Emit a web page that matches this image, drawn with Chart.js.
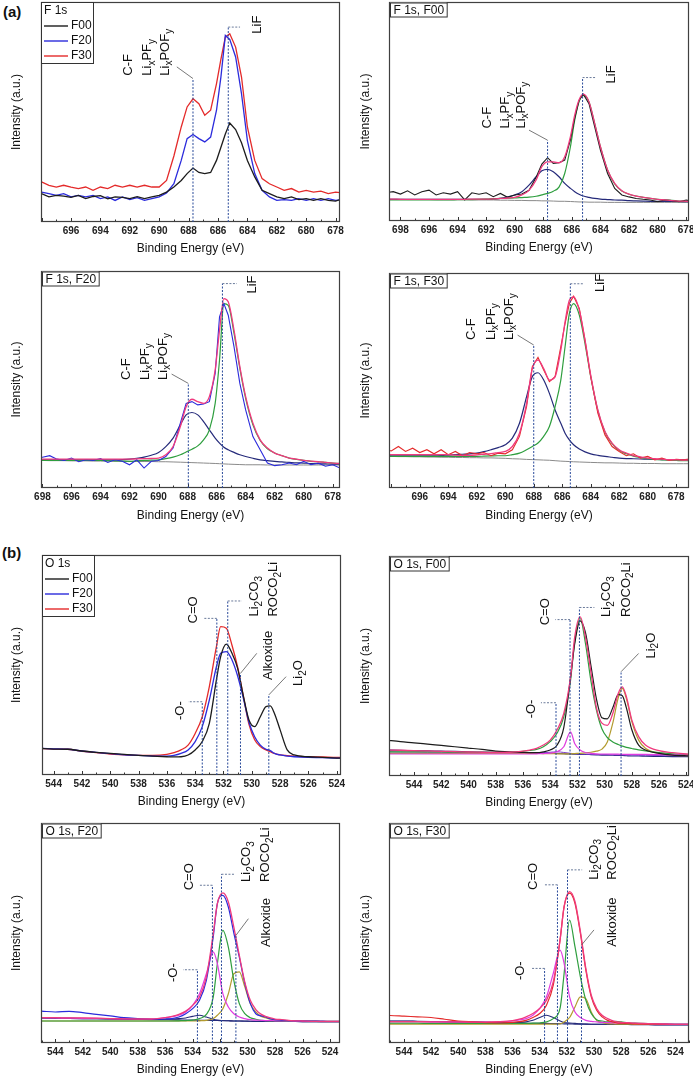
<!DOCTYPE html>
<html><head><meta charset="utf-8">
<script src="https://cdn.jsdelivr.net/npm/chart.js@4.4.1/dist/chart.umd.min.js"></script>
<style>
body{margin:0;background:#fff;width:693px;height:1078px;position:relative;overflow:hidden;font-family:"Liberation Sans",Arial,sans-serif}
canvas{position:absolute}
.tag{position:absolute;font-weight:bold;font-size:15px;line-height:15px;color:#111}
</style></head>
<body>
<div class="tag" style="left:3px;top:4px">(a)</div>
<div class="tag" style="left:2px;top:545px">(b)</div>
<script>
// ---------- x positions (binding energy, eV) ----------
const F_X = [699,698.5,698,697.5,697,696.5,696,695.5,695,694.5,694,693.5,693,692.5,692,691.5,691,690.5,690,689.5,689,
  688.5,688.1,687.7,687.3,686.9,686.5,686.1,685.8,685.5,685.2,684.8,684.4,684,
  683.5,683,682.5,682,681.5,681,680.5,680,679.5,679,678.5,678,677.5,677];
const O_X = [546,545,544,543,542,541,540,539,538,537,536,
  535.5,535,534.5,534,533.5,533,532.5,
  532.2,531.8,531.4,531,530.6,530.2,529.8,529.4,529,
  528.7,528.4,528,527.5,527,
  526,525,524,523];
const F_TICKS = [698,696,694,692,690,688,686,684,682,680,678];
const O_TICKS = [546,544,542,540,538,536,534,532,530,528,526,524];

// ---------- F 1s overlay ----------
const P1_F00 = [12.5,12.3,12.9,11.4,12.1,11.8,11.2,12.1,10.6,11.6,12.0,10.5,11.4,11.2,10.6,11.5,10.6,11.4,12.1,13.6,15.9,
  18.9,22.0,24.5,22.5,22.0,22.5,28,34,40,45,42,36,28,
  20.5,14.4,12.9,11.4,10.6,11.4,10.2,10.6,9.8,10.6,9.8,9.5,10.6,10.0];
const P1_F20 = [13.2,13.6,13.6,12.9,12.1,12.9,11.4,12.1,11.4,12.1,10.6,11.4,9.8,11.4,10.2,11.1,9.8,10.6,11.4,13.2,17.4,
  28,37.9,39.8,37.9,36.4,38.6,50.8,66,84.8,83,75,58.3,37,
  22,14.4,11.4,9.8,10.2,9.8,10.6,9.8,10.6,9.8,10.6,9.8,10.2,9.8];
const P1_F30 = [18.0,18.5,18.2,16.7,15.9,16.7,15.9,15.2,15.9,14.4,15.9,15.2,16.7,15.9,16.7,15.9,16.7,15.9,15.9,18.9,30,
  43.2,52.3,56,53.8,48.5,50.8,62.9,74,84,85.6,79.5,65.9,43.2,
  28,19.7,17.4,15.9,14.4,15.2,13.6,14.4,13.6,14,12.9,13.6,13.2,13.2];
// ---------- F 1s, F00 ----------
const P2_RAW = [12.9,13.4,12.3,13.8,11.9,13.4,14.1,11.9,12.9,12.3,13.4,9.6,12.9,12.2,12.9,11.1,12.6,10.8,11.9,12.3,14.0,
  20,26,28.9,26.3,26.6,27.8,37,47,55,57.9,53.6,43,32.4,
  21.7,14.9,11.9,11,10.3,9.9,9.6,8.8,9.6,9.3,8.8,9.6,8.8,8.8];
const P2_FIT = [10,10,9.9,9.9,9.9,9.9,9.9,9.9,9.9,9.9,9.9,9.9,10,10,10,10.1,10.3,10.5,10.8,11.9,14,
  18.7,24.8,27,27,26.6,29.3,38.5,48.3,55.2,57.9,54.4,44.5,33.9,
  23.3,17.2,13.8,12.3,11.4,10.8,10.3,9.9,9.6,9.3,9.1,9,8.9,8.8];
const P2_LIF = [9.6,9.6,9.6,9.6,9.6,9.6,9.6,9.6,9.6,9.6,9.7,9.7,9.8,9.9,10.0,10.1,10.3,10.4,10.5,10.7,10.9,
  11.3,11.9,12.6,13.6,15.5,21.7,33.9,46,54.4,57.4,54.4,44.5,33.9,
  23.3,16.9,13.7,12.2,11.4,10.8,10.3,9.9,9.6,9.4,9.1,9.0,8.9,8.8];
const P2_CF = [9.9,9.9,9.9,9.9,9.9,9.9,9.9,9.9,9.9,9.9,9.9,9.9,9.9,9.9,9.9,10.1,10.3,11,11.9,13.4,16.4,
  20.2,22.9,23.6,22.5,20.2,17.2,14.9,13.4,12.2,11.4,10.8,10.3,10.0,
  9.8,9.6,9.5,9.3,9.2,9.1,9.0,9.0,9.0,8.9,8.9,8.8,8.8,8.8];
const P2_BG = [9.9,9.9,9.9,9.8,9.8,9.8,9.8,9.7,9.7,9.7,9.7,9.7,9.6,9.6,9.6,9.6,9.5,9.5,9.4,9.4,9.3,
  9.3,9.2,9.2,9.1,9.0,9.0,8.9,8.8,8.7,8.7,8.6,8.6,8.6,
  8.5,8.5,8.5,8.5,8.5,8.5,8.5,8.5,8.5,8.5,8.5,8.5,8.5,8.5];
// ---------- F 1s, F20 ----------
const P3_RAW = [14.5,13.8,14.2,14.9,13.3,12.7,13.8,12.1,13,12.7,13.6,11.8,13,12.3,10.7,13,9.2,12.3,12.7,14.5,18.4,
  29.9,39,39.8,38.3,38.7,39.8,52.8,78.9,85,79.6,65,48.2,36,
  23.7,17.6,11.5,10.3,10.7,11.5,10.7,12.3,10.7,11.5,10,10.7,9.2,8.4];
const P3_FIT = [13.3,13.3,13.3,13.3,13.3,13.3,13.3,13.3,13.3,13.3,13.3,13.3,13.3,13.3,13.3,13.4,13.5,13.6,13.8,15.3,19.1,
  28.3,37.5,40.9,39.8,39,42.1,54.4,72.7,87.3,85.8,72.7,55.9,42.1,
  29.9,22.2,18.4,16.1,14.9,13.8,13.3,12.7,12.4,12.1,11.8,11.5,11.3,11.2];
const P3_LIF = [12.7,12.7,12.7,12.7,12.7,12.7,12.7,12.7,12.7,12.7,12.7,12.6,12.5,12.4,12.3,12.5,12.7,12.8,13,13.5,14.2,
  15.3,16.6,17.9,19.4,22.2,26.8,39,59,85,84.2,71.2,55.1,41.3,
  29.1,21.9,18.1,16.1,14.9,13.8,13.2,12.7,12.3,12.1,11.8,11.5,11.3,11.2];
const P3_CF = [13,13,13,13,13,13,13,13,13,13,13,13,13,13.1,13.3,13.7,14.2,15.1,16.4,19.1,23,
  29.1,33.7,34.8,33.7,30.6,26.8,23,20.7,18.8,17.6,16.4,15.3,14.5,
  13.7,13,12.6,12.3,12,11.8,11.6,11.5,11.3,11.2,11.1,11,11,10.9];
const P3_BG = [12.7,12.7,12.7,12.6,12.6,12.6,12.5,12.5,12.5,12.4,12.4,12.4,12.3,12.3,12.3,12.2,12.2,12.2,12.1,12.1,12.0,
  11.9,11.8,11.7,11.6,11.5,11.4,11.3,11.2,11.1,11.0,10.9,10.8,10.7,
  10.7,10.7,10.6,10.6,10.6,10.6,10.6,10.6,10.6,10.6,10.6,10.6,10.6,10.6];
// ---------- F 1s, F30 ----------
const P4_RAW = [17.5,18.1,17.2,19.3,17,18.5,16.5,17.8,15.9,17.8,15.5,17,15,16.5,15.9,16.5,15,16.2,15.9,17.8,24,
  37.9,56.4,60.7,54.9,49.5,51.8,65.7,76.5,85.8,89.2,83.5,68.8,51.8,
  34.8,24.7,19.3,17,15,15.9,13.9,14.7,13.1,13.9,12.8,13.4,13.1,13.6];
const P4_FIT = [15.5,15.5,15.5,15.5,15.5,15.5,15.5,15.5,15.5,15.5,15.5,15.3,15.2,15.2,15.4,15.7,16,16.5,17,19.3,25.5,
  39.4,55.6,59.5,55.6,50.2,51.8,64.1,77.3,87.3,88.9,82.7,68.8,52.5,
  36.3,26.3,20.9,17.8,16.2,15.1,14.5,13.9,13.6,13.4,13.2,13.1,13.0,13.0];
const P4_LIF = [14.7,14.7,14.7,14.7,14.7,14.7,14.7,14.7,14.7,14.7,14.7,14.7,14.7,14.7,14.7,14.8,14.9,15,15,15.5,16.2,
  17.8,19.3,20.9,24,28.6,37.9,50.2,65.7,81.1,85.8,80.4,67.2,51.8,
  36,26,20.6,17.5,15.9,14.8,14.2,13.6,13.3,13.1,12.9,12.8,12.7,12.7];
const P4_CF = [15,15,15,15,15,15,15,15,15,15.1,15.3,15.5,15.7,15.9,16.2,16.9,17.8,18.8,20.1,23.2,30.1,
  42.5,51.8,53.6,50.2,44,36.3,30.1,25.5,22.4,20.1,18.1,16.8,15.9,
  15.2,14.7,14.3,13.9,13.7,13.6,13.5,13.4,13.3,13.2,13.2,13.1,13.1,13.1];
const P4_BG = [14.7,14.7,14.7,14.6,14.6,14.5,14.5,14.4,14.4,14.3,14.3,14.2,14.2,14.1,14.1,14.0,14.0,13.9,13.8,13.6,13.5,
  13.3,13.2,13.1,13.0,12.9,12.7,12.5,12.4,12.3,12.2,12.1,12.0,11.9,
  11.8,11.7,11.7,11.6,11.5,11.5,11.4,11.4,11.4,11.3,11.3,11.3,11.3,11.3];

// ---------- O 1s overlay ----------
const P5_F00 = [12.4,12.1,11.8,11.7,10.9,10.3,9.8,9.4,8.9,8.6,8.3, 8.2,8.3,9.1,11.4,15.2,23.5,43.2,
  53.8,59.5,55.3,48.5,36,25,22,26.5,31.1, 31.4,28,20.5,11.4,9.1, 8.3,8,7.7,7.6];
const P5_F20 = [12.3,12.1,11.9,11.7,10.9,10.3,9.7,9.2,8.9,8.6,8.6, 8.9,9.8,11.4,15.2,22,34.1,49.2,
  55.3,56.1,52.3,45,35,24,17.4,13.6,11.7, 11.1,9.8,9.1,8.6,8.3, 8,7.9,7.7,7.7];
const P5_F30 = [12.4,12.1,11.8,11.7,10.8,10.2,9.5,9.2,8.9,8.9,9.4, 10.2,11.4,13.6,18.9,26.5,40.2,58.3,
  67.4,66.7,59,49,36,23,16,12.9,11.4, 10.6,9.8,9.1,8.8,8.6, 8.3,8.2,8.0,8.0];
// ---------- O 1s, F00 ----------
const P6_RAW = [16.3,15.6,15.1,14.5,13.9,13.3,12.7,12.1,11.3,11,10.7, 10.6,10.6,11,11.8,14,22,45,
  60,70.5,65,50,35,26.5,26,31,37, 36.5,31,21,14,11.8, 10.3,9.5,9.2,9.1];
const P6_FIT = [11.8,11.7,11.5,11.4,11.2,11.1,10.9,10.8,10.7,10.8,11.3, 11.8,12.6,14.1,16.3,20.9,28.4,45.1,
  63,72.3,63,47,31,24,23,28.4,37.5, 40.5,36,25.4,17.9,14.1, 11.5,10.6,10,9.8];
const P6_LI2CO3 = [11,11,11,10.9,10.9,10.8,10.8,10.8,10.8,10.8,11.2, 11.6,12.1,13.3,15.6,19.4,26.9,43.6,
  61,71.6,60,43,30,21.5,17.5,15.5,14.3, 13.6,13,12.5,11.9,11.4, 10.6,10.1,9.8,9.7];
const P6_LI2O = [10.3,10.3,10.3,10.3,10.3,10.3,10.3,10.3,10.3,10.3,10.3, 10.3,10.3,10.2,10.2,10.1,10.1,10.1,
  10.2,10.3,10.5,10.8,11.3,12.2,15.5,24,35.5, 39.8,35.2,24.7,16.3,12.6, 10.3,9.5,9.2,9.1];
const P6_CO = [10,10,10,10,10,10,10,10,10,10,10, 10,10.1,10.2,10.4,11,13.3,20.1,
  14.8,11.8,10.7,10.3,10.1,10,10,9.9,9.9, 9.8,9.8,9.8,9.8,9.8, 9.7,9.6,9.5,9.5];
const P6_O = [11,10.9,10.9,10.8,10.8,10.7,10.6,10.6,10.5,10.5,10.4, 10.4,10.5,10.6,10.8,11.0,10.7,10.3,
  10.1,10,9.9,9.8,9.8,9.7,9.7,9.6,9.6, 9.6,9.5,9.5,9.4,9.4, 9.3,9.2,9.2,9.1];
const P6_BG = [11.8,11.7,11.5,11.4,11.3,11.2,11.0,10.9,10.8,10.7,10.6, 10.5,10.5,10.4,10.3,10.2,10.1,10.0,
  9.9,9.8,9.8,9.7,9.6,9.5,9.5,9.4,9.3, 9.3,9.2,9.1,9.1,9.0, 8.9,8.8,8.8,8.8];
// ---------- O 1s, F20 ----------
const P7_RAW = [14.8,14.5,14.1,14.4,13.8,13,12.3,11.5,11.1,10.8,10.9, 11.1,11.8,13.3,15.6,19.4,28.5,48.2,
  63.3,67.1,61.8,50,39,27,17.9,13.3,12.3, 11.8,11.1,10.6,10.3,10.2, 10,10,9.8,9.8];
const P7_FIT = [11.5,11.5,11.5,11.4,11.4,11.3,11.1,11.0,10.9,10.9,11.5, 12.1,13,14.5,17.1,20.9,30,49.7,
  63.3,68.2,64.1,52.7,39.8,27.7,19.4,15.2,13, 12.1,11.5,10.9,10.6,10.3, 10,9.8,9.8,9.8];
const P7_CO = [11.5,11.5,11.4,11.3,11.2,11.2,11.1,11.0,10.9,10.9,11.5, 12,12.6,14.1,17.1,22.4,31.5,41.4,
  36.1,22.4,16.4,13.3,11.8,11.1,10.6,10.4,10.3, 10.2,10.2,10.1,10.0,10.0, 9.9,9.8,9.7,9.7];
const P7_LI2CO3 = [10,10,10,10,10,10,10,10,10,10,10, 10,10.1,10.2,10.4,11.1,13,20.9,
  36,51.2,43.6,28.5,17.9,13.3,11.5,10.8,10.3, 10.2,10.1,10,10,9.9, 9.9,9.8,9.7,9.7];
const P7_ALK = [10,10,10,10,10,10,10,10,10,10,10, 10,10,10,10,10.1,10.3,11.1,
  12.6,15.6,22.4,31.5,32.3,25.5,17.9,14.1,12.1, 11.5,10.9,10.6,10.3,10.2, 10,9.9,9.8,9.8];
const P7_O = [11.5,11.4,11.3,11.2,11.1,11.0,10.9,10.8,10.7,10.7,10.8, 10.9,11.1,11.4,12.1,12.6,11.8,10.8,
  10.4,10.2,10.1,10,10,9.9,9.9,9.8,9.8, 9.8,9.8,9.8,9.8,9.8, 9.7,9.7,9.7,9.7];
const P7_BG = [11.5,11.4,11.3,11.2,11.1,11.0,10.9,10.8,10.7,10.6,10.6, 10.5,10.5,10.4,10.4,10.3,10.3,10.2,
  10.2,10.1,10.1,10,10,10,9.9,9.9,9.9, 9.9,9.8,9.8,9.8,9.8, 9.7,9.7,9.7,9.7];
// ---------- O 1s, F30 ----------
const P8_RAW = [12.6,12.5,12.2,11.9,11.6,10.8,10,9.6,9.3,9.1,9.4, 9.7,10.3,11.6,13.4,17.2,26.3,46.8,
  62,68.1,63.5,49.8,33.1,21,14.9,11.9,10.3, 9.7,9.3,9,8.9,8.7, 8.6,8.5,8.4,8.4];
const P8_FIT = [9.7,9.7,9.7,9.7,9.6,9.6,9.6,9.5,9.5,9.7,10.2, 10.8,11.9,13.4,15.7,19.5,27.8,46.8,
  62,68.8,64.3,50.6,33.9,21.7,15.7,12.6,11.1, 10.3,9.7,9.4,9.2,9, 8.8,8.6,8.5,8.5];
const P8_CO = [9.7,9.7,9.7,9.7,9.6,9.6,9.6,9.5,9.5,9.6,10, 10.5,11.1,12.6,15.7,21,31.6,42.2,
  36.2,21,14.1,11.6,10.3,9.8,9.6,9.4,9.3, 9.2,9.1,9,9,8.9, 8.8,8.7,8.6,8.6];
const P8_LI2CO3 = [9.0,9.0,9.0,9.0,8.9,8.9,8.9,8.9,8.9,8.9,8.9, 8.9,8.9,9,9.1,9.6,11.1,15.7,
  31.6,55.9,43.8,30.1,19.5,13.4,10.6,10,9.6, 9.6,9.8,9.6,9.2,9, 8.8,8.7,8.6,8.6];
const P8_ALK = [8.6,8.6,8.6,8.6,8.6,8.6,8.6,8.6,8.6,8.6,8.6, 8.6,8.6,8.6,8.6,8.6,8.6,8.7,
  9.6,11.6,16.4,21,20.2,14.1,10.3,9.3,8.8, 8.7,8.6,8.6,8.6,8.5, 8.5,8.4,8.4,8.4];
const P8_O = [10,9.9,9.9,9.8,9.7,9.6,9.6,9.5,9.4,9.3,9.1, 9.3,9.6,10.3,11.6,12.6,11.6,10,
  9.3,9.1,8.9,8.7,8.6,8.5,8.5,8.5,8.5, 8.5,8.4,8.4,8.4,8.4, 8.4,8.3,8.3,8.3];
const P8_BG = [10,10,10,9.9,9.8,9.7,9.6,9.5,9.4,9.2,9.1, 9.1,9,9,8.9,8.9,8.8,8.8,
  8.7,8.7,8.6,8.6,8.6,8.5,8.5,8.5,8.5, 8.4,8.4,8.4,8.4,8.3, 8.3,8.2,8.2,8.2];

// ---------- peak annotation positions (eV / intensity) ----------
const CF_LBL = ['C-F','Li_xPF_y','Li_xPOF_y'];
const LI2CO3_LBL = ['Li_2CO_3','ROCO_2Li'];
const P1_MARKS = [
  {x:687.7, y1:65.2, x2:688.8, y2:70.5, kind:'diag', labels:CF_LBL, lx:[692.1,690.8,689.6], ly:66.5},
  {x:685.3, y1:88.6, x2:684.5, y2:88.6, kind:'dash', labels:['LiF'], lx:[683.3], ly:85.6}];
const P2_MARKS = [
  {x:687.7, y1:36.9, x2:689.0, y2:41.5, kind:'diag', labels:CF_LBL, lx:[691.9,690.65,689.55], ly:42.2},
  {x:685.25, y1:65.5, x2:684.3, y2:65.5, kind:'dash', labels:['LiF'], lx:[683.25], ly:62.8}];
const P3_MARKS = [
  {x:687.95, y1:48.2, x2:689.1, y2:52.5, kind:'diag', labels:CF_LBL, lx:[692.2,690.94,689.68], ly:49.8},
  {x:685.6, y1:94.2, x2:684.6, y2:94.2, kind:'dash', labels:['LiF'], lx:[683.5], ly:89.6}];
const P4_MARKS = [
  {x:688.0, y1:66.5, x2:689.13, y2:71.1, kind:'diag', labels:CF_LBL, lx:[692.34,691.0,689.72], ly:68.8},
  {x:685.43, y1:95, x2:684.45, y2:95, kind:'dash', labels:['LiF'], lx:[683.34], ly:91.2}];
const P5_MARKS = [
  {x:533.5, y1:33.3, x2:534.5, y2:33.3, kind:'dash', labels:['-O-'], lx:[535.06], ly:25},
  {x:532.47, y1:71.2, x2:533.4, y2:71.2, kind:'dash', labels:['C=O'], lx:[534.1], ly:68.9},
  {x:531.7, y1:79.1, x2:530.7, y2:79.1, kind:'dash', labels:LI2CO3_LBL, lx:[529.8,528.47], ly:72},
  {x:530.8, y1:46.2, x2:529.65, y2:55.3, kind:'diag', labels:['Alkoxide'], lx:[528.8], ly:43.2},
  {x:528.8, y1:36.4, x2:527.58, y2:44.7, kind:'diag', labels:['Li_2O'], lx:[526.7], ly:40.5}];
const P6_MARKS = [
  {x:533.57, y1:33.3, x2:534.68, y2:33.3, kind:'dash', labels:['-O-'], lx:[535.4], ly:26.2},
  {x:532.54, y1:71.1, x2:533.62, y2:71.1, kind:'dash', labels:['C=O'], lx:[534.35], ly:68.5},
  {x:531.85, y1:76.6, x2:530.75, y2:76.6, kind:'dash', labels:LI2CO3_LBL, lx:[529.84,528.42], ly:72.3},
  {x:528.79, y1:47.4, x2:527.5, y2:55.7, kind:'diag', labels:['Li_2O'], lx:[526.58], ly:53.4}];
const P7_MARKS = [
  {x:533.65, y1:33.3, x2:534.7, y2:33.3, kind:'dash', labels:['-O-'], lx:[535.4], ly:27.7},
  {x:532.56, y1:71.7, x2:533.58, y2:71.7, kind:'dash', labels:['C=O'], lx:[534.2], ly:69.4},
  {x:531.9, y1:76.7, x2:530.9, y2:76.7, kind:'dash', labels:LI2CO3_LBL, lx:[530.06,528.68], ly:73.2},
  {x:530.85, y1:48.9, x2:529.94, y2:56.5, kind:'diag', labels:['Alkoxide'], lx:[528.6], ly:43.6}];
const P8_MARKS = [
  {x:533.64, y1:33.9, x2:534.67, y2:33.9, kind:'dash', labels:['-O-'], lx:[535.4], ly:28.6},
  {x:532.69, y1:71.9, x2:533.62, y2:71.9, kind:'dash', labels:['C=O'], lx:[534.43], ly:69.6},
  {x:531.95, y1:78.7, x2:530.87, y2:78.7, kind:'dash', labels:LI2CO3_LBL, lx:[530.0,528.66], ly:74.2},
  {x:530.92, y1:44.5, x2:530.0, y2:51.4, kind:'diag', labels:['Alkoxide'], lx:[528.66], ly:43.8}];

// ---------- styles ----------
const C = {black:'#1c1c1c', blue:'#2b2bdc', red:'#e42a2a', pink:'#f03a7e', green:'#2e9e3e', navy:'#252a7a',
  gray:'#8a8a8a', olive:'#b39b2e', magenta:'#e03ce0', purple:'#7a3cc8'};
const FAM = '"Liberation Sans", Arial, sans-serif';

const PANELS = [
  {canvas:[0,0,346,256], area:[41,2,340,222], xr:[677.7,698.04], X:F_X, ticks:F_TICKS, hideAbove:697.5, ytx:17,
   series:[[P1_F00,C.black,1.3,false],[P1_F20,C.blue,1.3,false],[P1_F30,C.red,1.3,false]],
   legend:{title:'F 1s', items:[['F00',C.black],['F20',C.blue],['F30',C.red]]}, marks:P1_MARKS},
  {canvas:[346,0,347,255], area:[389,2,689,221], xr:[677.8,698.8], X:F_X, ticks:F_TICKS, ytx:20,
   series:[[P2_FIT,C.pink,1.3,true],[P2_RAW,C.black,1.1,false],[P2_LIF,C.green,1.2,true],[P2_CF,C.navy,1.2,true],[P2_BG,C.gray,1,true]],
   box:'F 1s, F00', marks:P2_MARKS},
  {canvas:[0,262,346,261], area:[41,271,340,488], xr:[677.5,698.1], X:F_X, ticks:F_TICKS, ytx:17,
   series:[[P3_FIT,C.pink,1.3,true],[P3_RAW,C.blue,1.1,false],[P3_LIF,C.green,1.2,true],[P3_CF,C.navy,1.2,true],[P3_BG,C.gray,1,true]],
   box:'F 1s, F20', marks:P3_MARKS},
  {canvas:[346,262,347,261], area:[389,273,689,488], xr:[677.1,698.16], X:F_X, ticks:F_TICKS, hideAbove:697.5, ytx:20,
   series:[[P4_FIT,C.pink,1.3,true],[P4_RAW,C.red,1.1,false],[P4_LIF,C.green,1.2,true],[P4_CF,C.navy,1.2,true],[P4_BG,C.gray,1,true]],
   box:'F 1s, F30', marks:P4_MARKS},
  {canvas:[0,530,346,279], area:[42,555,341,775], xr:[523.7,544.82], X:O_X, ticks:O_TICKS, ytx:17,
   series:[[P5_F00,C.black,1.3,true],[P5_F20,C.blue,1.3,true],[P5_F30,C.red,1.3,true]],
   legend:{title:'O 1s', items:[['F00',C.black],['F20',C.blue],['F30',C.red]]}, marks:P5_MARKS},
  {canvas:[346,530,347,280], area:[389,556,689,776], xr:[523.8,545.84], X:O_X, ticks:O_TICKS, ytx:20,
   series:[[P6_FIT,C.pink,1.3,true],[P6_RAW,C.black,1.2,true],[P6_CO,C.magenta,1.2,true],[P6_LI2CO3,C.green,1.2,true],
           [P6_LI2O,C.olive,1.2,true],[P6_O,C.purple,1,true],[P6_BG,C.navy,1.1,true]],
   box:'O 1s, F00', marks:P6_MARKS},
  {canvas:[0,812,346,265], area:[41,823,340,1043], xr:[523.27,545.04], X:O_X, ticks:O_TICKS, ytx:17,
   series:[[P7_FIT,C.pink,1.3,true],[P7_RAW,C.blue,1.2,true],[P7_CO,C.magenta,1.2,true],[P7_LI2CO3,C.green,1.2,true],
           [P7_ALK,C.olive,1.2,true],[P7_O,C.navy,1.1,true],[P7_BG,C.navy,1.1,true]],
   box:'O 1s, F20', marks:P7_MARKS},
  {canvas:[346,812,347,265], area:[389,823,689,1043], xr:[523.0,545.1], X:O_X, ticks:O_TICKS, ytx:20,
   series:[[P8_FIT,C.pink,1.3,true],[P8_RAW,C.red,1.2,true],[P8_CO,C.magenta,1.2,true],[P8_LI2CO3,C.green,1.2,true],
           [P8_ALK,C.olive,1.2,true],[P8_O,C.navy,1.1,true],[P8_BG,C.navy,1.1,true]],
   box:'O 1s, F30', marks:P8_MARKS}
];

function seg(ctx, x1, y1, x2, y2) { ctx.beginPath(); ctx.moveTo(x1, y1); ctx.lineTo(x2, y2); ctx.stroke(); }

function rotLabel(ctx, text, px, py) {
  ctx.save();
  ctx.translate(px, py);
  ctx.rotate(-Math.PI / 2);
  ctx.textBaseline = 'middle'; ctx.textAlign = 'left'; ctx.fillStyle = '#111';
  let cx = 0;
  for (const p of text.split(/(_.)/)) {
    if (!p) continue;
    if (p[0] === '_') { ctx.font = '10px ' + FAM; ctx.fillText(p[1], cx, 4.5); cx += ctx.measureText(p[1]).width; }
    else { ctx.font = '13px ' + FAM; ctx.fillText(p, cx, 0); cx += ctx.measureText(p).width; }
  }
  ctx.restore();
}

function makeDeco(P) {
  return {
    id: 'deco',
    afterDraw(chart) {
      const {ctx, chartArea: a, scales: {x: sx, y: sy}} = chart;
      ctx.save();
      // inward ticks
      ctx.strokeStyle = '#333'; ctx.lineWidth = 1;
      for (let v = Math.ceil(sx.min); v <= Math.floor(sx.max); v++) {
        const px = Math.round(sx.getPixelForValue(v)) + 0.5;
        seg(ctx, px, a.bottom, px, a.bottom - (v % 2 === 0 ? 4 : 2.5));
      }
      // frame
      ctx.strokeStyle = '#404040'; ctx.lineWidth = 1.2;
      ctx.strokeRect(a.left + 0.5, a.top + 0.5, a.right - a.left - 1, a.bottom - a.top - 1);
      // peak markers
      for (const m of P.marks) {
        const px = sx.getPixelForValue(m.x), py1 = sy.getPixelForValue(m.y1);
        ctx.setLineDash([2, 1.5]); ctx.lineWidth = 1; ctx.strokeStyle = '#2a4a9a';
        seg(ctx, px, a.bottom, px, py1);
        if (m.kind === 'dash') {
          ctx.strokeStyle = '#6a7a9a';
          seg(ctx, px, py1, sx.getPixelForValue(m.x2), sy.getPixelForValue(m.y2));
        } else {
          ctx.setLineDash([]); ctx.strokeStyle = '#555'; ctx.lineWidth = 0.8;
          seg(ctx, px, py1, sx.getPixelForValue(m.x2), sy.getPixelForValue(m.y2));
        }
        ctx.setLineDash([]);
        m.labels.forEach((t, i) => rotLabel(ctx, t, sx.getPixelForValue(m.lx[i]), sy.getPixelForValue(m.ly)));
      }
      ctx.font = '12px ' + FAM; ctx.textBaseline = 'middle'; ctx.textAlign = 'left';
      if (P.legend) {
        const x = a.left, y = a.top, w = 52, h = 61;
        ctx.fillStyle = '#fff'; ctx.fillRect(x, y, w, h);
        ctx.strokeStyle = '#333'; ctx.lineWidth = 1; ctx.strokeRect(x + 0.5, y + 0.5, w, h);
        ctx.fillStyle = '#111'; ctx.fillText(P.legend.title, x + 3, y + 9);
        P.legend.items.forEach(([name, col], i) => {
          const yy = y + 24 + 15 * i;
          ctx.strokeStyle = col; ctx.lineWidth = 1.4; seg(ctx, x + 3, yy, x + 27, yy);
          ctx.fillStyle = '#111'; ctx.fillText(name, x + 30, yy);
        });
      }
      if (P.box) {
        const tw = ctx.measureText(P.box).width;
        const x = a.left + 1, y = a.top + 0.5;
        ctx.fillStyle = '#fff'; ctx.fillRect(x, y, tw + 6, 14);
        ctx.strokeStyle = '#333'; ctx.lineWidth = 1; ctx.strokeRect(x + 0.5, y + 0.5, tw + 6, 14);
        ctx.fillStyle = '#111'; ctx.fillText(P.box, x + 3.5, y + 8);
      }
      ctx.restore();
    }
  };
}

PANELS.forEach((P) => {
  const [cl, ct, cw, ch] = P.canvas;
  const [al, at, ar, ab] = P.area;
  const cv = document.createElement('canvas');
  cv.width = cw; cv.height = ch;
  cv.style.left = cl + 'px'; cv.style.top = ct + 'px';
  cv.style.width = cw + 'px'; cv.style.height = ch + 'px';
  document.body.appendChild(cv);
  const yW = al - cl, xH = ct + ch - ab;
  const datasets = P.series.map(([ys, col, w, smooth]) => ({
    data: P.X.map((xv, i) => ({x: xv, y: ys[i]})),
    borderColor: col, borderWidth: w, pointRadius: 0, fill: false,
    tension: 0, cubicInterpolationMode: smooth ? 'monotone' : 'default'
  }));
  const tickVals = P.ticks.filter(v => v >= P.xr[0] && v <= P.xr[1]);
  new Chart(cv, {
    type: 'line',
    data: {datasets},
    options: {
      responsive: false, animation: false, devicePixelRatio: 1,
      layout: {autoPadding: false, padding: {left: 0, bottom: 0, top: at - ct, right: cl + cw - ar}},
      plugins: {legend: {display: false}, tooltip: {enabled: false}},
      scales: {
        x: {
          type: 'linear', reverse: true, min: P.xr[0], max: P.xr[1],
          grid: {display: false, drawTicks: false}, border: {display: false},
          ticks: {autoSkip: false, maxRotation: 0, padding: 3, color: '#222',
                  font: {family: FAM, size: 10, weight: 'bold'},
                  callback: (v) => (P.hideAbove && v > P.hideAbove) ? '' : String(v)},
          afterBuildTicks: (s) => { s.ticks = tickVals.map(v => ({value: v})); },
          title: {display: true, text: 'Binding Energy (eV)', color: '#111',
                  font: {family: FAM, size: 12}, padding: {top: 0, bottom: 0}},
          afterFit: (s) => { s.height = xH; s.paddingLeft = 0; s.paddingRight = 0; }
        },
        y: {
          min: 0, max: 100,
          grid: {display: false, drawTicks: false}, border: {display: false},
          ticks: {display: false},
          title: {display: true, text: 'Intensity (a.u.)', color: '#111',
                  font: {family: FAM, size: 12}, padding: {top: P.ytx - 7.2, bottom: 0}},
          afterFit: (s) => { s.width = yW; s.paddingTop = 0; s.paddingBottom = 0; }
        }
      }
    },
    plugins: [makeDeco(P)]
  });
});
</script>
</body></html>
